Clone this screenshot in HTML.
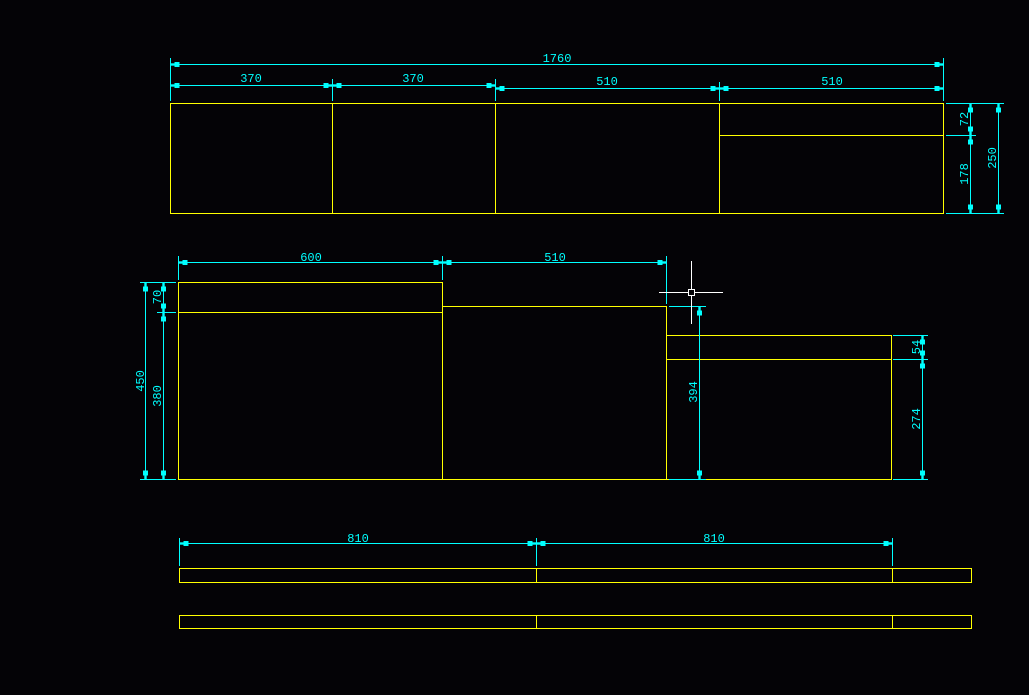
<!DOCTYPE html>
<html><head><meta charset="utf-8"><style>
html,body{margin:0;padding:0;background:#040306;}
svg{display:block}
text{font-family:"Liberation Mono","DejaVu Sans Mono",monospace;font-size:12px;fill:#00ffff}
</style></head><body>
<svg width="1029" height="695" viewBox="0 0 1029 695" xmlns="http://www.w3.org/2000/svg">
<defs>
<marker id="a" markerUnits="userSpaceOnUse" markerWidth="20" markerHeight="10" viewBox="-12 -5 20 10" refX="0" refY="0" orient="auto-start-reverse">
<rect x="-9" y="-2.5" width="5" height="5" fill="#00ffff"/><rect x="-5" y="-1.2" width="5" height="2.4" fill="#00ffff"/>
</marker>
</defs>
<rect width="1029" height="695" fill="#040306"/>
<g stroke="#ffff00" stroke-width="1" fill="none" shape-rendering="crispEdges">
<rect x="170.5" y="103.5" width="773" height="110"/>
<line x1="332.5" y1="103" x2="332.5" y2="213"/>
<line x1="495.5" y1="103" x2="495.5" y2="213"/>
<line x1="719.5" y1="103" x2="719.5" y2="213"/>
<line x1="719" y1="135.5" x2="943" y2="135.5"/>
<rect x="178.5" y="282.5" width="264" height="197"/>
<line x1="178" y1="312.5" x2="442" y2="312.5"/>
<polyline points="442.5,306.5 666.5,306.5 666.5,479.5 442.5,479.5"/>
<rect x="666.5" y="335.5" width="225" height="144"/>
<line x1="666" y1="359.5" x2="891" y2="359.5"/>
<rect x="179.5" y="568.5" width="792" height="14"/>
<line x1="536.5" y1="568" x2="536.5" y2="582"/>
<line x1="892.5" y1="568" x2="892.5" y2="582"/>
<rect x="179.5" y="615.5" width="792" height="13"/>
<line x1="536.5" y1="615" x2="536.5" y2="628"/>
<line x1="892.5" y1="615" x2="892.5" y2="628"/>
</g>
<g stroke="#00ffff" stroke-width="1" fill="none" shape-rendering="crispEdges">
<!-- top extension lines -->
<line x1="170.5" y1="58" x2="170.5" y2="101"/>
<line x1="943.5" y1="58" x2="943.5" y2="101"/>
<line x1="332.5" y1="79" x2="332.5" y2="101"/>
<line x1="495.5" y1="79" x2="495.5" y2="101"/>
<line x1="719.5" y1="82" x2="719.5" y2="101"/>
<!-- right extension -->
<line x1="946" y1="103.5" x2="1004" y2="103.5"/>
<line x1="946" y1="135.5" x2="976" y2="135.5"/>
<line x1="946" y1="213.5" x2="1004" y2="213.5"/>
<!-- middle ext -->
<line x1="178.5" y1="256" x2="178.5" y2="280"/>
<line x1="442.5" y1="256" x2="442.5" y2="280"/>
<line x1="666.5" y1="256" x2="666.5" y2="304"/>
<line x1="140" y1="282.5" x2="176" y2="282.5"/>
<line x1="157" y1="312.5" x2="176" y2="312.5"/>
<line x1="140" y1="479.5" x2="176" y2="479.5"/>
<line x1="669" y1="306.5" x2="706" y2="306.5"/>
<line x1="669" y1="479.5" x2="706" y2="479.5"/>
<line x1="893" y1="335.5" x2="928" y2="335.5"/>
<line x1="893" y1="359.5" x2="928" y2="359.5"/>
<line x1="893" y1="479.5" x2="928" y2="479.5"/>
<!-- bottom ext -->
<line x1="179.5" y1="538" x2="179.5" y2="566"/>
<line x1="536.5" y1="538" x2="536.5" y2="566"/>
<line x1="892.5" y1="538" x2="892.5" y2="566"/>
</g>
<g stroke="#00ffff" stroke-width="1" fill="none" marker-start="url(#a)" marker-end="url(#a)">
<line x1="170.5" y1="64.5" x2="943.5" y2="64.5"/>
<line x1="170.5" y1="85.5" x2="332.5" y2="85.5"/>
<line x1="332.5" y1="85.5" x2="495.5" y2="85.5"/>
<line x1="495.5" y1="88.5" x2="719.5" y2="88.5"/>
<line x1="719.5" y1="88.5" x2="943.5" y2="88.5"/>
<line x1="970.5" y1="103.5" x2="970.5" y2="135.5"/>
<line x1="970.5" y1="135.5" x2="970.5" y2="213.5"/>
<line x1="998.5" y1="103.5" x2="998.5" y2="213.5"/>
<line x1="178.5" y1="262.5" x2="442.5" y2="262.5"/>
<line x1="442.5" y1="262.5" x2="666.5" y2="262.5"/>
<line x1="145.5" y1="282.5" x2="145.5" y2="479.5"/>
<line x1="163.5" y1="282.5" x2="163.5" y2="312.5"/>
<line x1="163.5" y1="312.5" x2="163.5" y2="479.5"/>
<line x1="699.5" y1="306.5" x2="699.5" y2="479.5"/>
<line x1="922.5" y1="335.5" x2="922.5" y2="359.5"/>
<line x1="922.5" y1="359.5" x2="922.5" y2="479.5"/>
<line x1="179.5" y1="543.5" x2="536.5" y2="543.5"/>
<line x1="536.5" y1="543.5" x2="892.5" y2="543.5"/>
</g>
<!-- crosshair -->
<g stroke="#ffffff" stroke-width="1" shape-rendering="crispEdges">
<line x1="659" y1="292.5" x2="723" y2="292.5"/>
<line x1="691.5" y1="261" x2="691.5" y2="324"/>
<rect x="688.5" y="289.5" width="6" height="6" fill="#040306"/>
</g>
<g text-anchor="middle">
<text x="557" y="62">1760</text>
<text x="251" y="82">370</text>
<text x="413" y="82">370</text>
<text x="607" y="85">510</text>
<text x="832" y="85">510</text>
<text x="311" y="261">600</text>
<text x="555" y="261">510</text>
<text x="358" y="542">810</text>
<text x="714" y="542">810</text>
<text transform="translate(968,119) rotate(-90)">72</text>
<text transform="translate(968,174) rotate(-90)">178</text>
<text transform="translate(996,158) rotate(-90)">250</text>
<text transform="translate(144,381) rotate(-90)">450</text>
<text transform="translate(161,297) rotate(-90)">70</text>
<text transform="translate(161,396) rotate(-90)">380</text>
<text transform="translate(697,392) rotate(-90)">394</text>
<text transform="translate(920,347) rotate(-90)">54</text>
<text transform="translate(920,419) rotate(-90)">274</text>
</g>
</svg>
</body></html>
